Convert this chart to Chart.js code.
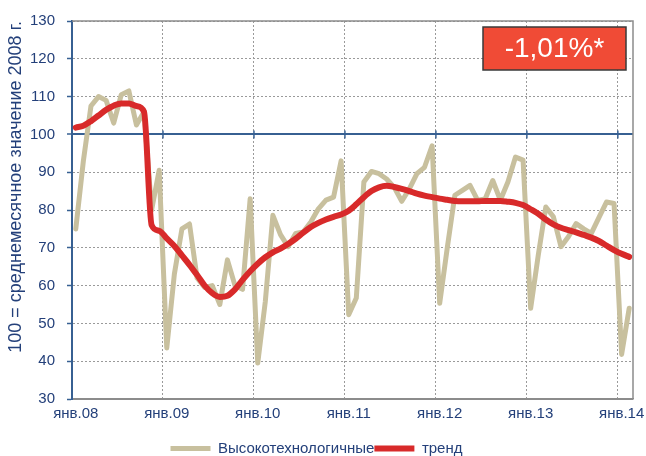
<!DOCTYPE html>
<html>
<head>
<meta charset="utf-8">
<script src="https://cdn.jsdelivr.net/npm/chart.js@4.4.1/dist/chart.umd.min.js"></script>
<style>
  html, body { margin: 0; padding: 0; background: #fff; }
  #wrap { width: 646px; height: 456px; }
</style>
</head>
<body>
<div id="wrap"><canvas id="chartHighTech" width="646" height="456"></canvas></div>
<script>
const monthNames = ['янв', 'фев', 'мар', 'апр', 'май', 'июн', 'июл', 'авг', 'сен', 'окт', 'ноя', 'дек'];
const years = ['08', '09', '10', '11', '12', '13', '14'];

// Jan 2008 .. Feb 2014
const highTech = [
    75, 93, 107.5, 110, 109, 103, 110.5, 111.5, 102.5, 106, 80, 90.5,
    43.5, 63, 75, 76.3, 62, 59.5, 60, 55, 66.8, 60, 59, 83,
    39.5, 55.8, 78.6, 73.5, 70.3, 73.8, 74.2, 76.8, 80.3, 82.6, 83.4, 93,
    52.3, 56.7, 87.4, 90.2, 89.6, 88.2, 86, 82.3, 85.6, 89.6, 91.3, 97,
    55.3, 70, 83.9, 85.2, 86.5, 82.6, 82.9, 87.8, 82.6, 87.4, 94, 93.2,
    54, 68, 80.8, 78.2, 70.3, 73, 76.4, 75, 73.8, 78, 82.1, 81.7,
    41.8, 54
];
const trend = [
    101.8, 102.3, 103.5, 105, 106.5, 107.6, 108.2, 108.2, 107.5, 106, 76, 74.5,
    72.5, 70.5, 68, 65.5, 62.8, 60, 58, 57, 57.3, 59, 61.5, 63.8,
    65.8, 67.5, 68.8, 69.8, 71, 72.4, 74, 75.5, 76.6, 77.5, 78.2, 78.8,
    79.8, 81.5, 83.4, 85, 86, 86.4, 86.1, 85.6, 85, 84.3, 83.8, 83.4,
    83, 82.7, 82.4, 82.3, 82.3, 82.3, 82.4, 82.4, 82.4, 82.2, 81.9, 81.3,
    80.2, 79, 77.5, 76.2, 75.3, 74.7, 74.1, 73.4, 72.7, 71.8, 70.6, 69.4,
    68.4, 67.6
];
const changeLabel = '-1,01%*';

const categories = [];
years.forEach(y => monthNames.forEach(m => categories.push(m + '.' + y)));
categories.length = highTech.length;

const textColor = '#24407a';
const axisBlue = '#376092';
const font = 'Liberation Sans, Arial, sans-serif';

const framePlugin = {
    id: 'frame',
    afterDraw(chart) {
        const {ctx, chartArea: a, scales: {x, y}} = chart;
        ctx.save();
        // top and right border of the plot area
        ctx.strokeStyle = '#8c8c8c';
        ctx.lineWidth = 1.5;
        ctx.beginPath();
        ctx.moveTo(a.left, a.top);
        ctx.lineTo(a.right, a.top);
        ctx.lineTo(a.right, a.bottom);
        ctx.stroke();
        // small ticks on the 100 line
        const y100 = y.getPixelForValue(100);
        ctx.strokeStyle = axisBlue;
        ctx.lineWidth = 1.5;
        for (let i = 12; i < categories.length; i += 12) {
            const px = x.getPixelForValue(i - 0.5);
            ctx.beginPath();
            ctx.moveTo(px, y100 - 4);
            ctx.lineTo(px, y100 + 4);
            ctx.stroke();
        }
        // change box
        const bx = 483, by = 27, bw = 143, bh = 43;
        ctx.fillStyle = '#f04b36';
        ctx.fillRect(bx, by, bw, bh);
        ctx.strokeStyle = '#3a3a3a';
        ctx.lineWidth = 1.5;
        ctx.strokeRect(bx, by, bw, bh);
        ctx.fillStyle = '#ffffff';
        ctx.font = '28px ' + font;
        ctx.textAlign = 'center';
        ctx.textBaseline = 'middle';
        ctx.fillText(changeLabel, bx + bw / 2, by + bh / 2 + 1);
        ctx.restore();
    }
};

const ctx = document.getElementById('chartHighTech').getContext('2d');
new Chart(ctx, {
    type: 'line',
    data: {
        labels: categories,
        datasets: [
            {
                label: 'Высокотехнологичные',
                data: highTech,
                borderColor: '#c8c09e',
                backgroundColor: '#c8c09e',
                borderWidth: 5,
                borderCapStyle: 'round',
                borderJoinStyle: 'round',
                pointRadius: 0,
                tension: 0,
                order: 2
            },
            {
                label: 'тренд',
                data: trend,
                borderColor: '#d82a2a',
                backgroundColor: '#d82a2a',
                borderWidth: 6,
                borderCapStyle: 'round',
                borderJoinStyle: 'round',
                pointRadius: 0,
                cubicInterpolationMode: 'monotone',
                order: 1
            }
        ]
    },
    options: {
        responsive: false,
        animation: false,
        layout: {
            padding: {top: 8, right: 13, left: 0, bottom: -10}
        },
        scales: {
            x: {
                offset: true,
                grid: {
                    offset: true,
                    drawTicks: false,
                    color: c => (c.index % 12 === 0 && c.index > 0 && c.index < categories.length) ? '#9a9a9a' : 'rgba(0,0,0,0)',
                    lineWidth: 1
                },
                border: {
                    display: true,
                    color: '#8c8c8c',
                    width: 1.5,
                    dash: [2, 2]
                },
                ticks: {
                    autoSkip: false,
                    maxRotation: 0,
                    minRotation: 0,
                    padding: 6,
                    color: textColor,
                    font: {family: font, size: 15},
                    callback: (v, i) => i % 12 === 0 ? categories[i] : ''
                },
                afterFit: s => { s.height = 42; }
            },
            y: {
                min: 30,
                max: 130,
                ticks: {
                    stepSize: 10,
                    padding: 12,
                    color: textColor,
                    font: {family: font, size: 15}
                },
                grid: {
                    color: c => c.tick && c.tick.value === 100 ? axisBlue : (c.tick && c.tick.value === 30 ? '#8c8c8c' : '#9a9a9a'),
                    lineWidth: c => c.tick && c.tick.value === 100 ? 2 : 1,
                    tickColor: axisBlue,
                    tickLength: 5,
                    tickWidth: 1.5
                },
                border: {
                    color: axisBlue,
                    width: 2,
                    dash: c => c.tick && (c.tick.value === 100 || c.tick.value === 30) ? [] : [2, 2]
                },
                title: {
                    display: true,
                    text: '100 = среднемесячное значение 2008 г.',
                    align: 'end',
                    color: textColor,
                    font: {family: font, size: 18},
                    padding: {top: 5, bottom: 4}
                },
                afterFit: s => { s.width = 72; }
            }
        },
        plugins: {
            legend: {
                display: true,
                position: 'bottom',
                labels: {
                    usePointStyle: true,
                    pointStyle: 'line',
                    pointStyleWidth: 40,
                    boxHeight: 5,
                    padding: 0,
                    color: textColor,
                    font: {family: font, size: 15},
                    sort: (a, b) => a.datasetIndex - b.datasetIndex
                }
            },
            title: {
                display: false
            },
            tooltip: {
                enabled: false
            }
        }
    },
    plugins: [framePlugin]
});
</script>
</body>
</html>
